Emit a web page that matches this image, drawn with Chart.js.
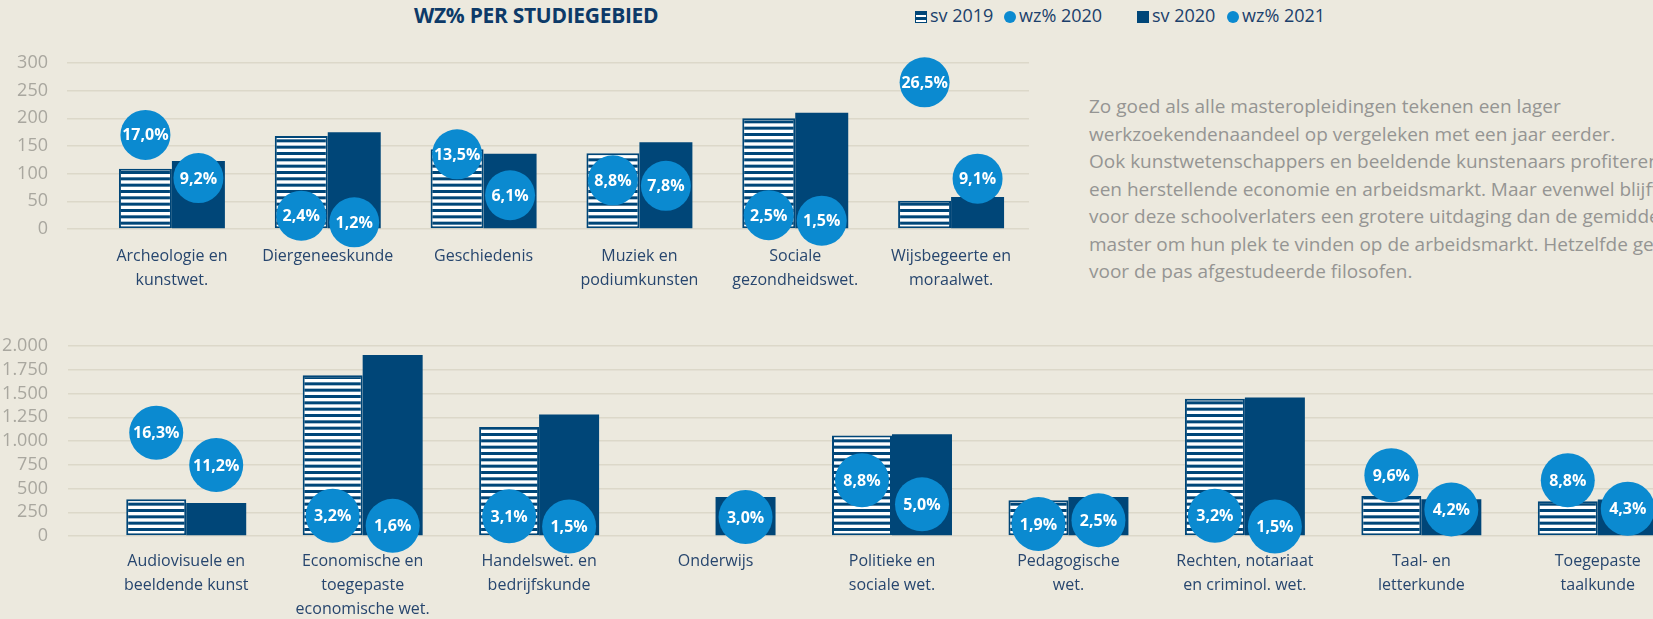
<!DOCTYPE html>
<html>
<head>
<meta charset="utf-8">
<script src="https://cdn.jsdelivr.net/npm/chart.js@4.4.1/dist/chart.umd.min.js"></script>
<style>
html, body { margin: 0; padding: 0; background: #ece9de; }
#page { position: relative; width: 1653px; height: 619px; overflow: hidden; background: #ece9de; font-family: 'Open Sans', sans-serif; }
#title { position: absolute; left: 414px; top: 1px; font-weight: bold; font-size: 21px; color: #0d3a68; white-space: nowrap; letter-spacing: -0.3px; }
.lg { position: absolute; top: 3px; font-size: 18px; color: #1b3f6b; white-space: nowrap; }
.lg i { display: inline-block; width: 12px; height: 12px; margin-right: 3px; vertical-align: -1px; }
.lg i.striped { background: repeating-linear-gradient(to bottom, #004678 0 3px, #fff 3px 5px); border: 1px solid #004678; width: 10px; height: 10px; }
.lg i.solid { background: #004678; }
.lg i.dot { background: #0b8ad0; border-radius: 50%; }
#note { position: absolute; left: 1089px; top: 93px; font-size: 19px; line-height: 27.5px; color: #959593; white-space: nowrap; }
#topChart { position: absolute; left: 0; top: 0; }
#bottomChart { position: absolute; left: 0; top: 300px; }
</style>
</head>
<body>
<div id="page">
  <div id="title">WZ% PER STUDIEGEBIED</div>
  <div class="lg" style="left:915px"><i class="striped"></i>sv 2019</div>
  <div class="lg" style="left:1004px"><i class="dot"></i>wz% 2020</div>
  <div class="lg" style="left:1137px"><i class="solid"></i>sv 2020</div>
  <div class="lg" style="left:1227px"><i class="dot"></i>wz% 2021</div>
  <div id="note">
    Zo goed als alle masteropleidingen tekenen een lager<br>
    werkzoekendenaandeel op vergeleken met een jaar eerder.<br>
    Ook kunstwetenschappers en beeldende kunstenaars profiteren van<br>
    een herstellende economie en arbeidsmarkt. Maar evenwel blijft het<br>
    voor deze schoolverlaters een grotere uitdaging dan de gemiddelde<br>
    master om hun plek te vinden op de arbeidsmarkt. Hetzelfde geldt<br>
    voor de pas afgestudeerde filosofen.
  </div>
  <canvas id="topChart" width="1029" height="300"></canvas>
  <canvas id="bottomChart" width="1686" height="319"></canvas>
</div>
<script>
// studiegebieden, eerste rij
var topLabels = [['Archeologie en', 'kunstwet.'], 'Diergeneeskunde', 'Geschiedenis',
    ['Muziek en', 'podiumkunsten'], ['Sociale', 'gezondheidswet.'], ['Wijsbegeerte en', 'moraalwet.']];
var topSv2019 = [109, 168, 144, 137, 200, 51];
var topSv2020 = [123, 175, 136, 157, 210, 58];
var topWz2020 = [17.0, 2.4, 13.5, 8.8, 2.5, 26.5];
var topWz2021 = [9.2, 1.2, 6.1, 7.8, 1.5, 9.1];

// studiegebieden, tweede rij
var bottomLabels = [['Audiovisuele en', 'beeldende kunst'], ['Economische en', 'toegepaste', 'economische wet.'],
    ['Handelswet. en', 'bedrijfskunde'], 'Onderwijs', ['Politieke en', 'sociale wet.'], ['Pedagogische', 'wet.'],
    ['Rechten, notariaat', 'en criminol. wet.'], ['Taal- en', 'letterkunde'], ['Toegepaste', 'taalkunde']];
var bottomSv2019 = [386, 1692, 1148, null, 1057, 376, 1446, 421, 365];
var bottomSv2020 = [348, 1905, 1278, 410, 1070, 410, 1457, 386, 385];
var bottomWz2020 = [16.3, 3.2, 3.1, null, 8.8, 1.9, 3.2, 9.6, 8.8];
var bottomWz2021 = [11.2, 1.6, 1.5, 3.0, 5.0, 2.5, 1.5, 4.2, 4.3];

var navy = '#004678';
var blue = '#0b8ad0';
var gridColor = '#dcd8c9';
var tickGrey = '#a9a79f';
var labelColor = '#27466e';

// horizontal white stripes for the sv 2019 bars
function stripes(ctx) {
    var c = document.createElement('canvas');
    c.width = 8; c.height = 19;
    var g = c.getContext('2d');
    g.fillStyle = '#ffffff';
    g.fillRect(0, 0, 8, 19);
    g.fillStyle = navy;
    for (var k = 0; k < 3; k++) g.fillRect(0, k * 19 / 3, 8, 3);
    return ctx.createPattern(c, 'repeat');
}

function pct(v) {
    return v.toFixed(1).replace('.', ',') + '%';
}

// wz% circles sit on top of their bar, height taken from the yPct axis
var wzBubbles = {
    id: 'wzBubbles',
    afterDatasetsDraw: function(chart, args, opts) {
        var ctx = chart.ctx;
        var yPct = chart.scales.yPct;
        ctx.save();
        opts.series.forEach(function(s) {
            var bars = chart.getDatasetMeta(s.bar).data;
            s.data.forEach(function(v, i) {
                if (v == null) return;
                var x = bars[i].x;
                var y = yPct.getPixelForValue(v);
                ctx.beginPath();
                ctx.arc(x, y, opts.radius, 0, Math.PI * 2);
                ctx.fillStyle = blue;
                ctx.fill();
                ctx.fillStyle = '#ffffff';
                ctx.font = 'bold 16px "Open Sans"';
                ctx.textAlign = 'center';
                ctx.textBaseline = 'middle';
                ctx.fillText(pct(v), x, y + 1);
            });
        });
        ctx.restore();
    }
};

function makeChart(id, cfg) {
    var canvas = document.getElementById(id);
    var ctx = canvas.getContext('2d');
    return new Chart(ctx, {
        type: 'bar',
        data: {
            labels: cfg.labels,
            datasets: [{
                label: 'sv 2019',
                data: cfg.sv2019,
                backgroundColor: stripes(ctx),
                borderColor: navy,
                borderWidth: 2,
                borderSkipped: false
            }, {
                label: 'sv 2020',
                data: cfg.sv2020,
                backgroundColor: navy,
                borderWidth: 0
            }]
        },
        plugins: [wzBubbles],
        options: {
            responsive: false,
            animation: false,
            events: [],
            categoryPercentage: 0.68,
            barPercentage: 1,
            layout: { padding: { top: cfg.padTop, left: 0, right: 0, bottom: 0 } },
            plugins: {
                legend: { display: false },
                tooltip: { enabled: false },
                wzBubbles: {
                    radius: cfg.radius,
                    series: [{ bar: 0, data: cfg.wz2020 }, { bar: 1, data: cfg.wz2021 }]
                }
            },
            scales: {
                x: {
                    grid: { display: false, drawTicks: false },
                    border: { display: false },
                    ticks: {
                        color: labelColor,
                        font: { family: 'Open Sans', size: 16, lineHeight: 1.5 },
                        padding: cfg.labelPad,
                        maxRotation: 0,
                        autoSkip: false
                    },
                    afterFit: function(s) { s.height = cfg.xHeight; }
                },
                y: {
                    min: 0,
                    max: cfg.max,
                    ticks: {
                        stepSize: cfg.step,
                        autoSkip: false,
                        color: tickGrey,
                        font: { family: 'Open Sans', size: 18 },
                        padding: cfg.tickPad,
                        callback: function(v) { return String(v).replace(/\B(?=(\d{3})+(?!\d))/g, '.'); }
                    },
                    grid: { color: gridColor, lineWidth: 1.5, tickLength: cfg.tickLen },
                    border: { display: false },
                    afterFit: function(s) { s.width = cfg.yWidth; }
                },
                yPct: { display: false, position: 'right', min: 0, max: 30 }
            }
        }
    });
}

makeChart('topChart', {
    labels: topLabels, sv2019: topSv2019, sv2020: topSv2020, wz2020: topWz2020, wz2021: topWz2021,
    max: 300, step: 50, padTop: 63, xHeight: 71, labelPad: 15,
    yWidth: 94, tickLen: 27, tickPad: 19, radius: 25
});

makeChart('bottomChart', {
    labels: bottomLabels, sv2019: bottomSv2019, sv2020: bottomSv2020, wz2020: bottomWz2020, wz2021: bottomWz2021,
    max: 2000, step: 250, padTop: 46, xHeight: 83, labelPad: 13,
    yWidth: 98, tickLen: 30, tickPad: 20, radius: 27
});
</script>
</body>
</html>
